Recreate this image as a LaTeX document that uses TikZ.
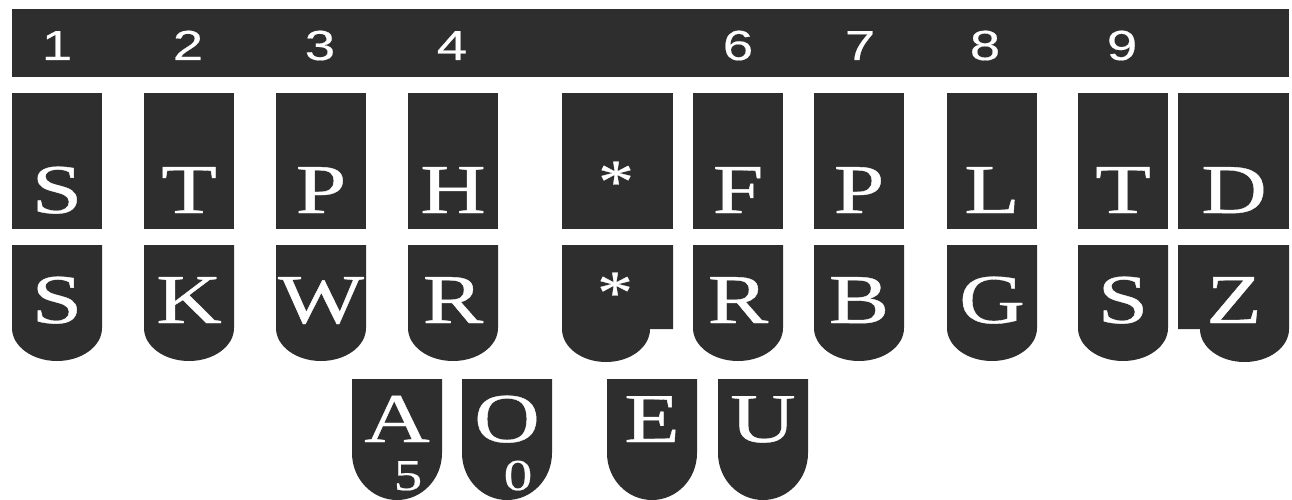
\documentclass[tikz,border=0pt]{standalone}
\usepackage{fontspec}
\setmainfont{Liberation Serif}[BoldFont=Liberation Serif,BoldFeatures={FakeBold=0.5}]
\newfontfamily\numfont{Liberation Sans}[BoldFont=Liberation Sans,BoldFeatures={FakeBold=0.4}]
\definecolor{keycol}{RGB}{46,46,46}
\newcommand{\wide}[1]{\scalebox{1.3}[1]{#1}}
\begin{document}
\begin{tikzpicture}[x=1pt,y=-1pt,
  keyfill/.style={fill=keycol,draw=none},
  letter/.style={text=white,anchor=base,inner sep=0pt,font=\bfseries\fontsize{70}{70}\selectfont},
  star/.style={text=white,anchor=center,inner sep=0pt,font=\bfseries\fontsize{62}{62}\selectfont},
  barnum/.style={text=white,anchor=base,inner sep=0pt,font=\numfont\bfseries\fontsize{42}{42}\selectfont},
  vnum/.style={text=white,anchor=base,inner sep=0pt,font=\bfseries\fontsize{44}{44}\selectfont}]
\useasboundingbox (0,0) rectangle (1292,500);
% number bar
\fill[keyfill] (12,9) rectangle (1289,77);
\foreach \n/\x in {1/57,2/188,3/320,4/452,6/738,7/860,8/985,9/1122}
  \node[barnum] (num\n) at (\x,60) {\wide{\n}};
% top row keys
\foreach \x/\l [count=\i] in {12/S,144/T,276/P,408/H,693/F,814/P,947/L,1078/T}{
  \fill[keyfill] (\x,93) rectangle ++(90,136);
  \node[letter] (top\i) at (\x+45,213) {\wide{\l}};
}
\fill[keyfill] (562,93) rectangle (673,229);
\node[star] (topstar) at (616,182) {\scalebox{1.15}[1]{*}};
\fill[keyfill] (1178,93) rectangle (1289,229);
\node[letter] (topD) at (1234,213) {\wide{D}};
% bottom row keys
\foreach \x/\l [count=\i] in {12/S,144/K,276/W,408/R,693/R,814/B,947/G,1078/S}{
  \fill[keyfill] (\x,245) -- (\x+90,245) -- (\x+90,328)
     arc[start angle=0,end angle=180,x radius=45,y radius=33] -- cycle;
  \node[letter] (bot\i) at (\x+45,323) {\wide{\l}};
}
\fill[keyfill] (562,245) -- (673,245) -- (673,329) -- (650,329)
   arc[start angle=0,end angle=180,x radius=44,y radius=33] -- cycle;
\node[star] (botstar) at (615,293) {\scalebox{1.15}[1]{*}};
\fill[keyfill] (1178,245) -- (1289,245) -- (1289,329)
   arc[start angle=0,end angle=180,x radius=44.5,y radius=33] -- (1178,329) -- cycle;
\node[letter] (botZ) at (1234,323) {\wide{Z}};
% vowel keys
\foreach \x/\l [count=\i] in {352/A,462/O,607/E,718/U}{
  \fill[keyfill] (\x,379) -- (\x+90,379) -- (\x+90,453)
     arc[start angle=0,end angle=180,x radius=45,y radius=47] -- cycle;
  \node[letter] (vow\i) at (\x+45,442) {\wide{\l}};
}
\node[vnum] (five) at (408,490) {\wide{5}};
\node[vnum] (zero) at (518,490) {\wide{0}};
\end{tikzpicture}
\end{document}
